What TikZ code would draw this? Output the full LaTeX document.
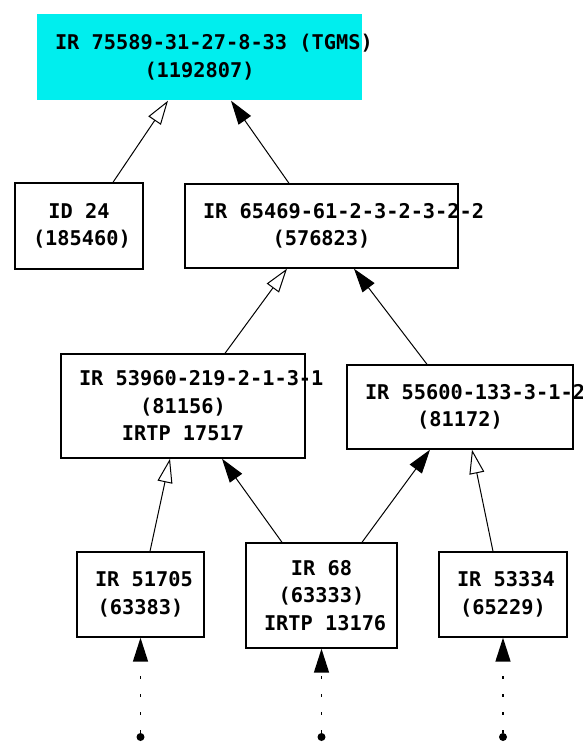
\documentclass[tikz,border=0pt]{standalone}
\usepackage{fontspec}
\usetikzlibrary{arrows.meta}
\newfontfamily\recfont{DejaVu Sans Mono}[HyphenChar=None,WordSpace={1,0,0}]
\definecolor{tgmscyan}{HTML}{00EEEE}
\begin{document}
\begin{tikzpicture}[x=1pt,y=-1pt,
  rec/.style={draw,line width=1.4pt,inner xsep=18pt,align=flush center},
  opn/.style={-{Triangle[open,length=24pt,width=15pt]},line width=1pt},
  fld/.style={-{Triangle[length=24pt,width=15pt]},line width=1pt},
  pt/.style={circle,fill,inner sep=0pt,minimum size=8pt},
  every node/.style={font=\recfont\bfseries\fontsize{20.3pt}{27.5pt}\selectfont}]
\useasboundingbox[fill=white] (0,0) rectangle (582,745);
\node[rec,draw=none,fill=tgmscyan,text width=289pt,minimum height=86pt] (tgms) at (199.5,57) {IR~75589-31-27-8-33~(TGMS)\\(1192807)};
\node[rec,text width=92pt,minimum height=86pt] (id24) at (79,226) {ID~24\\(185460)};
\node[rec,text width=237pt,minimum height=84pt] (ir65469) at (321.5,226) {IR~65469-61-2-3-2-3-2-2\\(576823)};
\node[rec,text width=208pt,minimum height=104pt] (ir53960) at (183,406) {IR~53960-219-2-1-3-1\\(81156)\\IRTP~17517};
\node[rec,text width=190pt,minimum height=84pt] (ir55600) at (460,407) {IR~55600-133-3-1-2\\(81172)};
\node[rec,text width=91pt,minimum height=85pt] (ir51705) at (140.5,594.5) {IR~51705\\(63383)};
\node[rec,text width=115pt,minimum height=105pt] (ir68) at (321.5,595.5) {IR~68\\(63333)\\IRTP~13176};
\node[rec,text width=92pt,minimum height=85pt] (ir53334) at (503,594.5) {IR~53334\\(65229)};
\draw[opn] ([xshift=34pt]id24.north) -- ([xshift=-31.5pt]tgms.south);
\draw[fld] ([xshift=-32.5pt]ir65469.north) -- ([xshift=31.5pt]tgms.south);
\draw[opn] ([xshift=42pt]ir53960.north) -- ([xshift=-34.5pt]ir65469.south);
\draw[fld] ([xshift=-33pt]ir55600.north) -- ([xshift=32.5pt]ir65469.south);
\draw[opn] ([xshift=9.5pt]ir51705.north) -- ([xshift=-13pt]ir53960.south);
\draw[fld] ([xshift=-39.5pt]ir68.north) -- ([xshift=39pt]ir53960.south);
\draw[fld] ([xshift=40.5pt]ir68.north) -- ([xshift=-30pt]ir55600.south);
\draw[opn] ([xshift=-10pt]ir53334.north) -- ([xshift=12pt]ir55600.south);
\foreach \n/\x in {ir51705/140.5,ir68/321.5,ir53334/503}{
  \node[pt] (d\n) at (\x,737) {};
  \draw[fld,line width=1.5pt,dash pattern=on 3pt off 15pt] (d\n) -- (\n);}
\end{tikzpicture}
\end{document}
